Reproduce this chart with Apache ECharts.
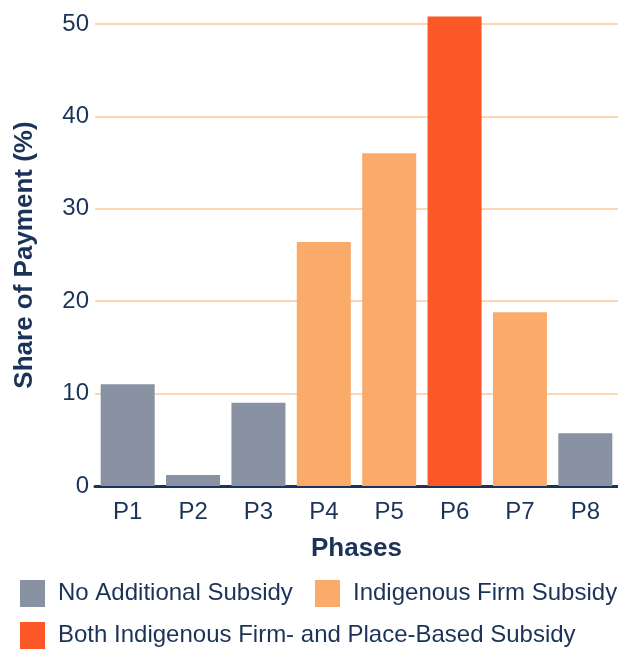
<!DOCTYPE html>
<html><head><meta charset="utf-8">
<script src="https://cdn.jsdelivr.net/npm/echarts@6/dist/echarts.min.js"></script>
<style>html,body{margin:0;padding:0;background:#fff;}#c{width:618px;height:650px;}</style>
</head><body><div id="c"></div>
<script>
const categories = ['P1','P2','P3','P4','P5','P6','P7','P8'];
const noSubsidy = [11.0, 1.2, 9.0, '-', '-', '-', '-', 5.7];
const firmSubsidy = ['-', '-', '-', 26.4, 36.0, '-', 18.8, '-'];
const bothSubsidy = ['-', '-', '-', '-', '-', 50.8, '-', '-'];
const yTicks = [0, 10, 20, 30, 40, 50];
const seriesNames = ['No Additional Subsidy', 'Indigenous Firm Subsidy', 'Both Indigenous Firm- and Place-Based Subsidy'];

const navy = '#1B3358';
const FONT = '"Liberation Sans", Arial, sans-serif';
const chart = echarts.init(document.getElementById('c'), null, {renderer:'canvas'});
const mk = (name, data, color) => ({
  name, type:'bar', stack:'s', data, barWidth:54, clip:false,
  itemStyle:{color}, emphasis:{disabled:true}
});
const legendText = {color:navy, fontSize:24, fontFamily:FONT, padding:[0,0,0,8]};
const lg = (name, left, top) => ({data:[name], left, top, itemWidth:25, itemHeight:27, padding:0,
  icon:'rect', textStyle:legendText, selectedMode:false});
chart.setOption({
  animation:false,
  textStyle:{fontFamily:FONT},
  grid:{left:95, width:530, top:24, bottom:164, containLabel:false},
  legend:[
    lg(seriesNames[0], 20, 580),
    lg(seriesNames[1], 315, 580),
    lg(seriesNames[2], 20, 622)
  ],
  xAxis:{type:'category', data:categories,
    name:'Phases', nameLocation:'middle', nameGap:50,
    nameTextStyle:{color:navy, fontSize:26, fontWeight:'bold', fontFamily:FONT},
    axisLine:{lineStyle:{color:navy, width:3}}, axisTick:{show:false},
    axisLabel:{color:navy, fontSize:24, margin:14, fontFamily:FONT}},
  yAxis:{type:'value', min:yTicks[0], max:yTicks[yTicks.length-1], interval:10,
    name:'Share of Payment (%)', nameLocation:'middle', nameGap:57, nameRotate:90,
    nameTextStyle:{color:navy, fontSize:26, fontWeight:'bold', fontFamily:FONT},
    axisLine:{show:false}, axisTick:{show:false},
    axisLabel:{color:navy, fontSize:24, margin:6, fontFamily:FONT},
    splitLine:{lineStyle:{color:'#FDD6B5', width:2}}},
  series:[
    mk(seriesNames[0], noSubsidy, '#8892A3'),
    mk(seriesNames[1], firmSubsidy, '#FBAB69'),
    mk(seriesNames[2], bothSubsidy, '#FC5727')
  ]
});
</script></body></html>
